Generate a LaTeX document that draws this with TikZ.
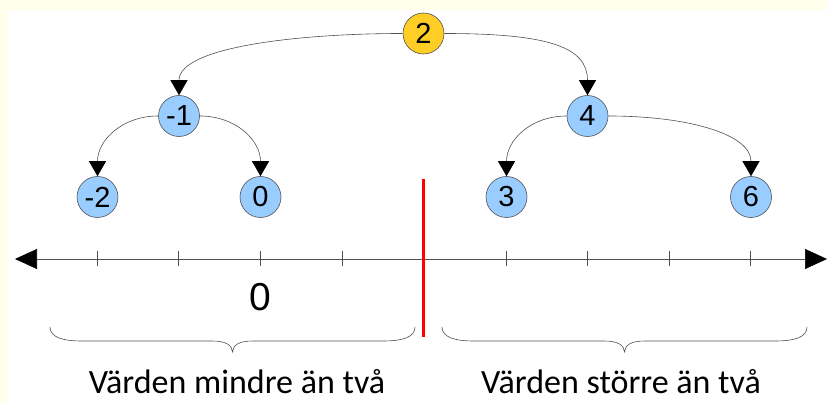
\documentclass[tikz,border=0pt]{standalone}
\usepackage{fontspec}
\setmainfont{Liberation Sans}
\newfontfamily\labelfont{Carlito}
\usetikzlibrary{arrows.meta}
\definecolor{paleyellow}{RGB}{255,255,236}
\definecolor{nodeblue}{RGB}{153,204,255}
\definecolor{nodegold}{RGB}{255,206,38}
\definecolor{edgegray}{RGB}{80,80,80}
\tikzset{
  num/.style={circle, draw=edgegray, line width=0.6pt, fill=nodeblue,
    minimum size=41pt, inner sep=0pt, font=\fontsize{29}{29}\selectfont},
  rootnum/.style={num, fill=nodegold},
  link/.style={draw=edgegray, line width=0.6pt,
    -{Triangle[length=15pt,width=17pt,black]}},
  axis/.style={draw=edgegray, line width=0.6pt,
    {Triangle[length=22pt,width=20pt,black]}-{Triangle[length=22pt,width=20pt,black]}},
  tick/.style={draw=edgegray, line width=0.6pt},
  bracepath/.style={draw=edgegray, line width=0.6pt},
  divider/.style={draw=red, line width=3pt},
  caption/.style={font=\labelfont\fontsize{34}{34}\selectfont, anchor=base,
    inner sep=0pt, text depth=0pt}
}
\begin{document}
\begin{tikzpicture}[x=1pt,y=1pt]
  % page and pale frame strips
  \fill[white] (0,0) rectangle (827,403);
  \fill[paleyellow] (0,393) rectangle (827,403);
  \fill[paleyellow] (0,0) rectangle (7,403);
  \useasboundingbox (0,0) rectangle (827,403);

  % tree nodes
  \node[rootnum] (n2)  at (423.5,369.5) {2};
  \node[num]     (nm1) at (179,287)     {-1};
  \node[num]     (n4)  at (587.5,287)   {4};
  \node[num]     (nm2) at (97.5,206)    {-2};
  \node[num]     (n0)  at (260.5,206)   {0};
  \node[num]     (n3)  at (506.5,206)   {3};
  \node[num]     (n6)  at (751,206)     {6};

  % tree edges
  \draw[link] (n2.west) .. controls +(-105,0) and +(0,48) .. (nm1.north);
  \draw[link] (n2.east) .. controls +(105,0) and +(0,48) .. (n4.north);
  \draw[link] (nm1.west) .. controls +(-36,0) and +(0,36) .. (nm2.north);
  \draw[link] (nm1.east) .. controls +(36,0) and +(0,36) .. (n0.north);
  \draw[link] (n4.west) .. controls +(-36,0) and +(0,36) .. (n3.north);
  \draw[link] (n4.east) .. controls +(80,0) and +(0,42) .. (n6.north);

  % number line
  \coordinate (axL) at (15,144);
  \coordinate (axR) at (827,144);
  \draw[axis] (axL) -- (axR);
  \foreach \t in {97,178,260,342,506,587,669,750}
    \draw[tick] (\t,152) -- (\t,137);
  \node[font=\fontsize{39}{39}\selectfont] (zero) at (260,105.5) {0};

  % divider at two
  \coordinate (divT) at (423.5,224);
  \coordinate (divB) at (423.5,66);
  \draw[divider] (divT) -- (divB);

  % braces
  \draw[bracepath] (50,76) .. controls (50,66) and (62,62) .. (82,62)
    -- (212,62) .. controls (226,62) and (232,58) .. (232.5,51)
    .. controls (233,58) and (239,62) .. (253,62)
    -- (383,62) .. controls (403,62) and (415,66) .. (415,76);
  \draw[bracepath] (442,76) .. controls (442,66) and (454,62) .. (474,62)
    -- (604,62) .. controls (618,62) and (624,58) .. (624.5,51)
    .. controls (625,58) and (631,62) .. (645,62)
    -- (775,62) .. controls (795,62) and (807,66) .. (807,76);

  % captions
  \node[caption] (capL) at (237,9) {Värden mindre än två};
  \node[caption] (capR) at (621,9) {Värden större än två};
\end{tikzpicture}
\end{document}
